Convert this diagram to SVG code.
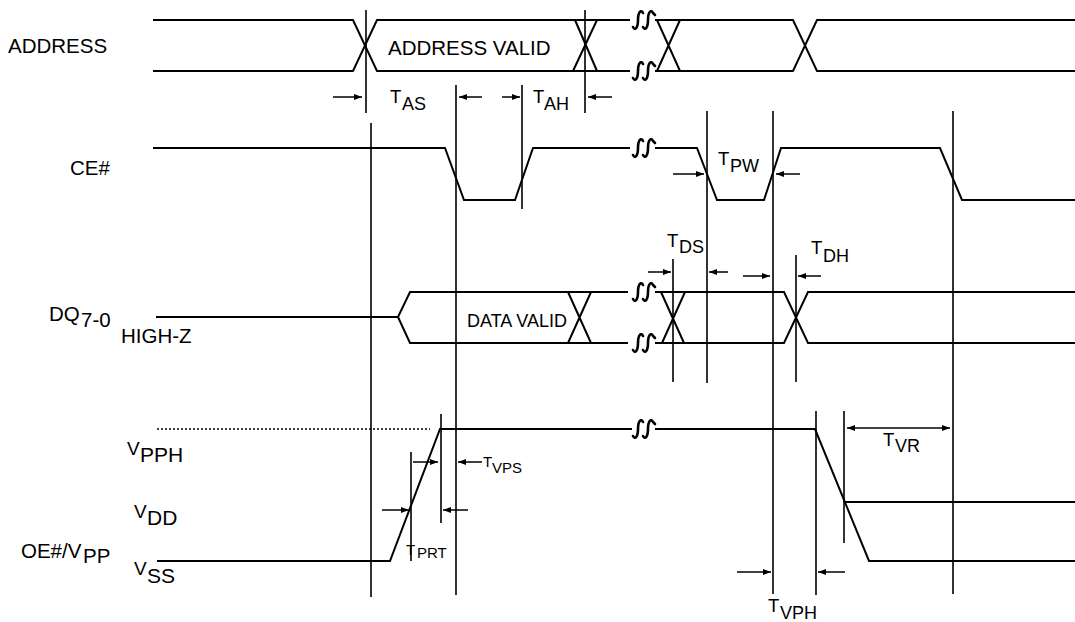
<svg xmlns="http://www.w3.org/2000/svg" xmlns:xlink="http://www.w3.org/1999/xlink" width="1075" height="622" viewBox="0 0 1075 622">
<style>
.sig{fill:none;stroke:#000;stroke-width:2;stroke-linejoin:miter}
.vl{fill:none;stroke:#000;stroke-width:1.6}
.ar{fill:none;stroke:#000;stroke-width:1.5;marker-end:url(#ah)}
.brk{fill:none;stroke:#000;stroke-width:2.6;stroke-linecap:round}
.dot{fill:none;stroke:#000;stroke-width:1.5;stroke-dasharray:2 2}
text{font-family:"Liberation Sans",Arial,sans-serif;fill:#000}
.lb{font-size:20.5px}
.t{font-size:18.5px}
.s{font-size:18px}
.sm{font-size:15px}
.v{font-size:19px}
.vs{font-size:21px}
</style>
<defs>
<marker id="ah" markerWidth="9" markerHeight="7" refX="8" refY="3" orient="auto-start-reverse" markerUnits="userSpaceOnUse">
<path d="M0,0 L8,3 L0,6 z" fill="#000"/>
</marker>
<path id="brk" d="M-10,7 C-8,11 -5,8 -5,0 C-5,-8 -2,-11 0,-7 M0,7 C2,11 5,8 5,0 C5,-8 8,-11 10,-7 L12,-5"/>
</defs>
<rect width="1075" height="622" fill="#fff"/>

<g id="address">
<text class="lb" x="8" y="53">ADDRESS</text>
<path class="sig" d="M153,20 H353 L377,71 H630 M153,71 H353 L377,20 H630"/>
<path class="sig" d="M573,71 L597,20 M575,20 L597,71"/>
<use href="#brk" class="brk" x="643" y="20"/>
<use href="#brk" class="brk" x="643" y="71"/>
<path class="sig" d="M655,20 H793 L817,71 H1075 M655,71 H793 L817,20 H1075"/>
<path class="sig" d="M657,20 L680,71 M657,71 L680,20"/>
<text class="lb" x="388" y="55">ADDRESS VALID</text>
</g>

<g id="ce">
<text class="lb" x="70" y="175">CE#</text>
<path class="sig" d="M153,148 H445 L464,200 H515 L533,148 H630"/>
<use href="#brk" class="brk" x="643" y="148"/>
<path class="sig" d="M655,148 H697 L717,200 H764 L781,148 H940 L962,200 H1075"/>
</g>

<g id="dq">
<text class="lb" x="49" y="321">DQ</text><text class="lb" x="81" y="327">7-0</text>
<text class="lb" x="121" y="343">HIGH-Z</text>
<path class="sig" d="M156,317 H398 L410,292 H628 M398,317 L410,343 H628"/>
<path class="sig" d="M568,292 L591,343 M568,343 L591,292"/>
<text x="467" y="327" style="font-size:18px">DATA VALID</text>
<use href="#brk" class="brk" x="643" y="292"/>
<use href="#brk" class="brk" x="643" y="343"/>
<path class="sig" d="M655,292 H784 L808,343 H1075 M655,343 H784 L808,292 H1075"/>
<path class="sig" d="M661,292 L684,343 M662,343 L685,292"/>
</g>

<g id="oevpp">
<text class="lb" x="21" y="558">OE#/V</text><text class="lb" x="83" y="563">PP</text>
<text class="v" x="127" y="455">V</text><text class="vs" x="140" y="462">PPH</text>
<text class="v" x="134" y="518">V</text><text class="vs" x="147" y="525">DD</text>
<text class="v" x="134" y="575">V</text><text class="vs" x="147" y="583">SS</text>
<path class="dot" d="M157,429 H430"/>
<path class="sig" d="M157,561 H390 L440,429 H632"/>
<use href="#brk" class="brk" x="643" y="429"/>
<path class="sig" d="M655,429 H815 L869,561 H1075 M844,502 H1075"/>
</g>

<g id="connectors">
<path class="vl" d="M366,10 V113 M585,10 V113 M371,123 V597 M456,85 V595 M522,85 V209 M707,111 V383 M773,111 V594 M953,111 V594 M673,259 V382 M796,255 V382 M441,414 V523 M411,452 V561 M816,411 V595 M844,411 V543"/>
<path class="ar" d="M333,97 H362"/>
<path class="ar" d="M482,97 H459"/>
<path class="ar" d="M502,97 H520"/>
<path class="ar" d="M612,97 H588"/>
<path class="ar" d="M673,174 H704"/>
<path class="ar" d="M800,174 H776"/>
<path class="ar" d="M648,272 H671"/>
<path class="ar" d="M728,272 H709"/>
<path class="ar" d="M743,276 H770"/>
<path class="ar" d="M821,276 H798"/>
<path class="ar" d="M413,462 H438"/>
<path class="ar" d="M482,462 H458"/>
<path class="ar" d="M382,510 H409"/>
<path class="ar" d="M468,510 H443"/>
<path class="ar" d="M737,572 H771"/>
<path class="ar" d="M845,572 H818"/>
<path class="ar" style="marker-start:url(#ah)" d="M847,428 H950"/>
</g>

<g id="labels">
<text class="t" x="390" y="103">T</text><text class="s" x="402" y="110">AS</text>
<text class="t" x="533" y="103">T</text><text class="s" x="544" y="110">AH</text>
<text class="t" x="718" y="165">T</text><text class="s" x="730" y="172">PW</text>
<text class="t" x="667" y="247">T</text><text class="s" x="679" y="253">DS</text>
<text class="t" x="811" y="254">T</text><text class="s" x="823" y="262">DH</text>
<text class="t" x="883" y="446">T</text><text class="s" x="895" y="452">VR</text>
<text class="t" x="768" y="612">T</text><text class="s" x="780" y="619">VPH</text>
<text class="sm" x="483" y="467">T</text><text class="sm" x="492" y="473">VPS</text>
<text class="sm" x="406" y="555">T</text><text class="sm" x="417" y="558">PRT</text>
</g>
</svg>
